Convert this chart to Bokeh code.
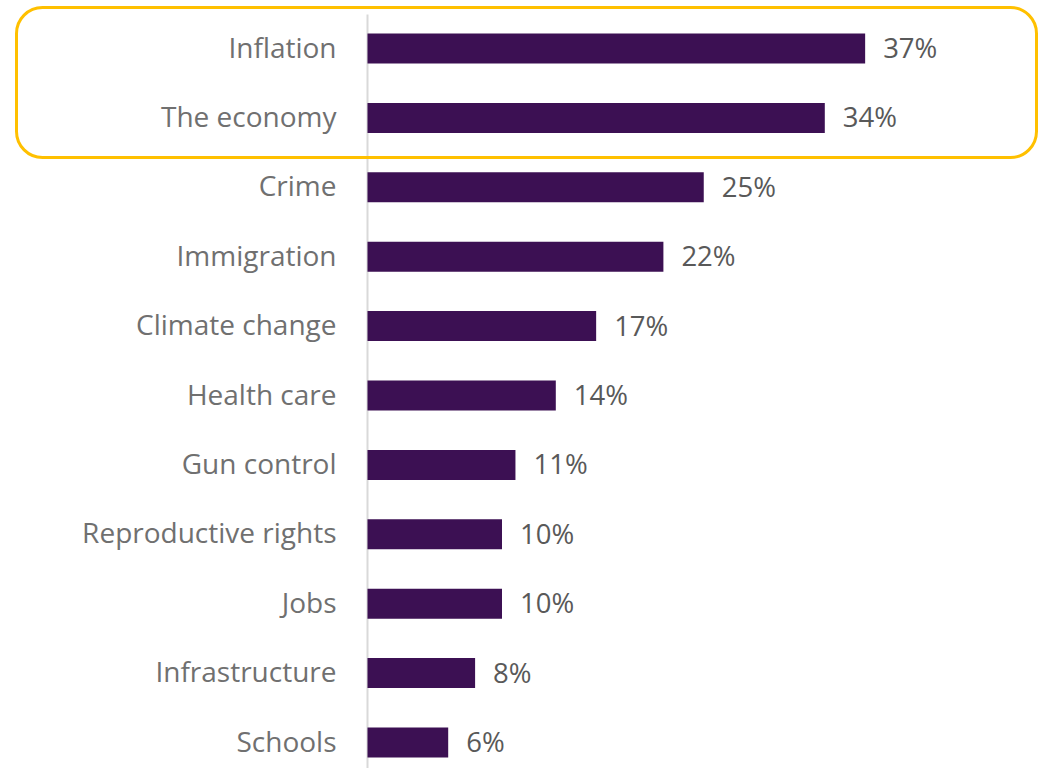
from bokeh.plotting import figure
from bokeh.models import Range1d, ColumnDataSource, BoxAnnotation
from bokeh.core.properties import value
from bokeh.embed import file_html
from bokeh.resources import INLINE

categories = ["Inflation", "The economy", "Crime", "Immigration", "Climate change",
              "Health care", "Gun control", "Reproductive rights", "Jobs",
              "Infrastructure", "Schools"]
values = [37, 34, 25, 22, 17, 14, 11, 10, 10, 8, 6]
value_labels = [f"{v}%" for v in values]

W, H = 1038, 768
x0_px, px_per_unit = 367, 13.45
y0_px, row_px = 48, 69.4

idx = list(range(len(categories)))
src = ColumnDataSource(dict(
    y=idx, v=values, cat=categories, lab=value_labels,
    lx=[v + 18 / px_per_unit for v in values],
    cx=[-31 / px_per_unit] * len(idx),
))

p = figure(width=W, height=H, output_backend="svg", toolbar_location=None,
           x_range=Range1d(-x0_px / px_per_unit, (W - x0_px) / px_per_unit),
           y_range=Range1d((H - y0_px) / row_px, -y0_px / row_px),
           min_border=0, outline_line_color=None)
p.axis.visible = False
p.grid.visible = False
p.background_fill_color = "white"
p.border_fill_color = "white"

# axis line
p.segment(x0=[0], x1=[0], y0=[(14 - y0_px) / row_px], y1=[(H - y0_px) / row_px],
          line_color="#d9d9d9", line_width=2)

p.hbar(y="y", left=0, right="v", height=30 / row_px, source=src,
       fill_color="#3C1053", line_color=None)

p.text(x="cx", y="y", text="cat", source=src, text_align="right",
       text_baseline="middle", text_font=value("Open Sans"), y_offset=-2,
       text_font_size="28px", text_color="#707070")
p.text(x="lx", y="y", text="lab", source=src, text_align="left",
       text_baseline="middle", text_font=value("Open Sans"), y_offset=-1,
       text_font_size="27.5px", text_color="#595959")

box = BoxAnnotation(left=(16 - x0_px) / px_per_unit, right=(1036 - x0_px) / px_per_unit,
                    top=(7 - y0_px) / row_px, bottom=(157 - y0_px) / row_px,
                    fill_alpha=0, line_color="#FFC000", line_width=3, line_alpha=1,
                    border_radius=26)
p.add_layout(box)

open("out.html", "w").write(file_html(p, INLINE))
